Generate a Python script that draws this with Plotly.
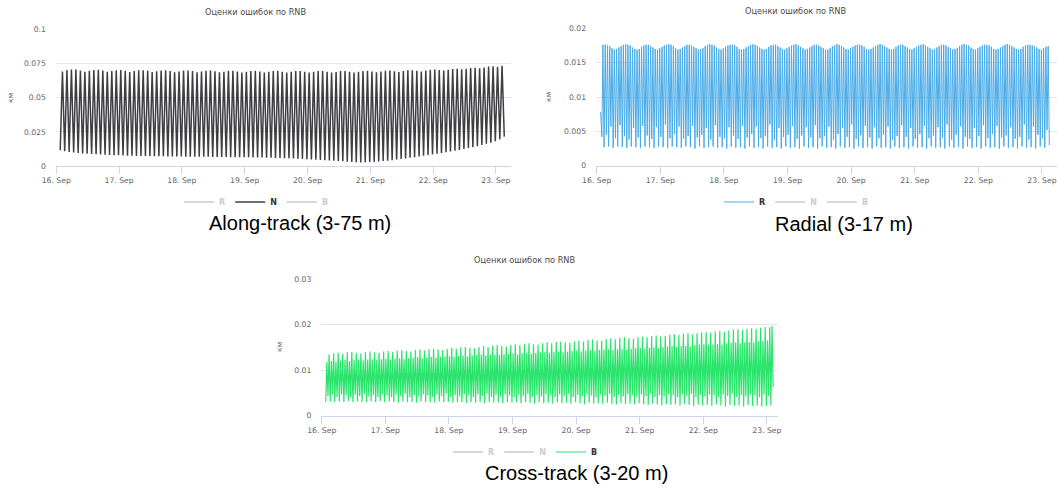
import numpy as np
import pandas as pd
import plotly.graph_objects as go

# ---------------- data (km) ----------------
SERIES_NAMES = ["R", "N", "B"]
CHART_TITLE = "Оценки ошибок по RNB"
Y_TITLE = "км"
CAPTIONS = ["Along-track (3-75 m)", "Radial (3-17 m)", "Cross-track (3-20 m)"]

FIRST_DAY = "2022-09-16 00:00"
DATA_START = "2022-09-16 01:30"

# Along-track (N): successive maxima and minima of each orbit
ALONG_PEAKS = [
    0.0692, 0.0702, 0.0706, 0.0705, 0.0698, 0.0690, 0.0697, 0.0703, 0.0704, 0.0698, 0.0689, 0.0695, 0.0701, 0.0702,
    0.0697, 0.0688, 0.0694, 0.0700, 0.0701, 0.0696, 0.0687, 0.0693, 0.0699, 0.0700, 0.0695, 0.0686, 0.0692, 0.0698,
    0.0699, 0.0694, 0.0686, 0.0691, 0.0697, 0.0698, 0.0693, 0.0685, 0.0690, 0.0696, 0.0697, 0.0692, 0.0684, 0.0690,
    0.0695, 0.0696, 0.0691, 0.0684, 0.0689, 0.0695, 0.0696, 0.0690, 0.0683, 0.0689, 0.0694, 0.0695, 0.0690, 0.0683,
    0.0689, 0.0694, 0.0695, 0.0690, 0.0683, 0.0688, 0.0694, 0.0695, 0.0690, 0.0684, 0.0689, 0.0695, 0.0696, 0.0691,
    0.0685, 0.0691, 0.0697, 0.0698, 0.0693, 0.0688, 0.0694, 0.0700, 0.0701, 0.0697, 0.0692, 0.0698, 0.0704, 0.0705,
    0.0702, 0.0698, 0.0704, 0.0709, 0.0711, 0.0707, 0.0712, 0.0717, 0.0719, 0.0715, 0.0721, 0.0727, 0.0729, 0.0726, 0.0734,
]
ALONG_TROUGHS = [
    0.0115, 0.0108, 0.0102, 0.0098, 0.0095, 0.0092, 0.0090, 0.0088, 0.0086, 0.0084, 0.0082, 0.0081, 0.0079, 0.0078,
    0.0077, 0.0076, 0.0075, 0.0074, 0.0074, 0.0073, 0.0072, 0.0072, 0.0071, 0.0071, 0.0070, 0.0070, 0.0069, 0.0069,
    0.0068, 0.0068, 0.0068, 0.0067, 0.0067, 0.0067, 0.0066, 0.0066, 0.0066, 0.0066, 0.0065, 0.0065, 0.0065, 0.0064,
    0.0064, 0.0063, 0.0063, 0.0062, 0.0061, 0.0060, 0.0059, 0.0058, 0.0057, 0.0056, 0.0055, 0.0053, 0.0052, 0.0050,
    0.0048, 0.0046, 0.0044, 0.0042, 0.0040, 0.0038, 0.0036, 0.0034, 0.0032, 0.0030, 0.0028, 0.0026, 0.0027, 0.0029,
    0.0031, 0.0033, 0.0036, 0.0039, 0.0043, 0.0047, 0.0051, 0.0055, 0.0060, 0.0065, 0.0070, 0.0075, 0.0080, 0.0085,
    0.0090, 0.0095, 0.0100, 0.0106, 0.0112, 0.0118, 0.0124, 0.0131, 0.0138, 0.0145, 0.0153, 0.0162, 0.0171, 0.0181,
    0.0195, 0.0215,
]

# Radial (R): first value, then alternating minima / maxima (two per orbit)
RADIAL_FIRST = 0.0078
RADIAL_PEAKS = [
    0.0176, 0.0176, 0.0175, 0.0174, 0.0171, 0.0169, 0.0170, 0.0172, 0.0174,
    0.0176, 0.0177, 0.0176, 0.0175, 0.0172, 0.0170, 0.0169, 0.0170, 0.0173, 0.0175,
    0.0176, 0.0176, 0.0174, 0.0172, 0.0170, 0.0169, 0.0171, 0.0173, 0.0175,
    0.0176, 0.0177, 0.0176, 0.0174, 0.0171, 0.0169, 0.0170, 0.0172, 0.0174,
    0.0176, 0.0176, 0.0175, 0.0173, 0.0171, 0.0169, 0.0170, 0.0171, 0.0174, 0.0176,
    0.0177, 0.0176, 0.0175, 0.0172, 0.0170, 0.0169, 0.0171, 0.0173, 0.0175,
    0.0176, 0.0176, 0.0175, 0.0173, 0.0170, 0.0169, 0.0170, 0.0172, 0.0174,
    0.0176, 0.0177, 0.0176, 0.0174, 0.0172, 0.0170, 0.0169, 0.0170, 0.0173, 0.0175,
    0.0176, 0.0176, 0.0174, 0.0172, 0.0170, 0.0169, 0.0171, 0.0173, 0.0175,
    0.0176, 0.0177, 0.0175, 0.0173, 0.0171, 0.0169, 0.0170, 0.0172, 0.0174,
    0.0176, 0.0176, 0.0175, 0.0173, 0.0171, 0.0169, 0.0169, 0.0171, 0.0174, 0.0175,
    0.0177, 0.0176, 0.0174, 0.0172, 0.0170, 0.0169, 0.0171, 0.0173, 0.0175,
    0.0176, 0.0176, 0.0175, 0.0173, 0.0170, 0.0169, 0.0170, 0.0172, 0.0174,
    0.0176, 0.0177, 0.0176, 0.0174, 0.0172, 0.0170, 0.0169, 0.0170, 0.0173, 0.0175,
    0.0176, 0.0176, 0.0174, 0.0172, 0.0170, 0.0169, 0.0171, 0.0173, 0.0175,
    0.0176, 0.0177, 0.0175, 0.0173, 0.0171, 0.0169, 0.0170, 0.0172, 0.0174,
    0.0176, 0.0176, 0.0175, 0.0173, 0.0171, 0.0169, 0.0170, 0.0171, 0.0174, 0.0176,
    0.0177, 0.0176, 0.0175, 0.0172, 0.0170, 0.0169, 0.0171, 0.0173, 0.0175,
    0.0176, 0.0176, 0.0175, 0.0173, 0.0170, 0.0169, 0.0170, 0.0172, 0.0174,
    0.0176, 0.0177, 0.0176, 0.0174, 0.0172, 0.0170, 0.0169, 0.0170, 0.0173, 0.0175,
    0.0176, 0.0176, 0.0175, 0.0174, 0.0172, 0.0170, 0.0169, 0.0171, 0.0173, 0.0174,
]
RADIAL_TROUGHS = [
    0.0042, 0.0027, 0.0045, 0.0028, 0.0057, 0.0026, 0.0040, 0.0028, 0.0059, 0.0027, 0.0043, 0.0026, 0.0038, 0.0028,
    0.0055, 0.0027, 0.0041, 0.0026, 0.0058, 0.0028, 0.0044, 0.0027, 0.0039, 0.0026, 0.0056, 0.0028, 0.0042, 0.0027,
    0.0060, 0.0026, 0.0040, 0.0028, 0.0046, 0.0027, 0.0057, 0.0026, 0.0039, 0.0028, 0.0043, 0.0027, 0.0058, 0.0025,
    0.0041, 0.0028, 0.0045, 0.0026, 0.0055, 0.0027, 0.0038, 0.0028, 0.0059, 0.0026, 0.0042, 0.0027, 0.0040, 0.0025,
    0.0056, 0.0028, 0.0044, 0.0026, 0.0039, 0.0027, 0.0058, 0.0025, 0.0041, 0.0028, 0.0046, 0.0026, 0.0057, 0.0027,
    0.0040, 0.0025, 0.0043, 0.0028, 0.0060, 0.0026, 0.0038, 0.0027, 0.0055, 0.0025, 0.0042, 0.0028, 0.0045, 0.0026,
    0.0058, 0.0027, 0.0039, 0.0025, 0.0044, 0.0028, 0.0056, 0.0026, 0.0041, 0.0027, 0.0059, 0.0025, 0.0040, 0.0028,
    0.0043, 0.0026, 0.0057, 0.0027, 0.0038, 0.0025, 0.0046, 0.0028, 0.0055, 0.0026, 0.0042, 0.0027, 0.0060, 0.0025,
    0.0039, 0.0028, 0.0044, 0.0026, 0.0058, 0.0027, 0.0041, 0.0025, 0.0056, 0.0028, 0.0040, 0.0026, 0.0045, 0.0027,
    0.0057, 0.0025, 0.0038, 0.0028, 0.0043, 0.0026, 0.0059, 0.0027, 0.0042, 0.0025, 0.0055, 0.0028, 0.0039, 0.0026,
    0.0046, 0.0027, 0.0058, 0.0025, 0.0040, 0.0028, 0.0044, 0.0026, 0.0056, 0.0027, 0.0041, 0.0025, 0.0060, 0.0028,
    0.0038, 0.0026, 0.0045, 0.0027, 0.0057, 0.0025, 0.0042, 0.0028, 0.0039, 0.0026, 0.0055, 0.0027, 0.0043, 0.0025,
    0.0059, 0.0028, 0.0040, 0.0026, 0.0046, 0.0027, 0.0058, 0.0025, 0.0041, 0.0028, 0.0044, 0.0026, 0.0056, 0.0027,
    0.0039, 0.0025, 0.0042, 0.0028, 0.0060, 0.0026, 0.0038, 0.0027, 0.0057, 0.0025, 0.0045, 0.0028, 0.0040, 0.0026,
    0.0052, 0.0030,
]

# Cross-track (B): alternating minima / maxima (two per orbit)
CROSS_PEAKS = [
    0.0118, 0.0134, 0.0120, 0.0137, 0.0119, 0.0138, 0.0121, 0.0136, 0.0122, 0.0139, 0.0120, 0.0140, 0.0122, 0.0138,
    0.0123, 0.0137, 0.0121, 0.0140, 0.0123, 0.0141, 0.0124, 0.0139, 0.0122, 0.0138, 0.0124, 0.0141, 0.0125, 0.0142,
    0.0123, 0.0140, 0.0125, 0.0143, 0.0126, 0.0144, 0.0124, 0.0142, 0.0126, 0.0141, 0.0127, 0.0144, 0.0128, 0.0145,
    0.0126, 0.0143, 0.0128, 0.0146, 0.0129, 0.0147, 0.0127, 0.0145, 0.0129, 0.0144, 0.0130, 0.0147, 0.0131, 0.0149,
    0.0129, 0.0147, 0.0131, 0.0150, 0.0132, 0.0151, 0.0130, 0.0149, 0.0132, 0.0148, 0.0133, 0.0151, 0.0134, 0.0153,
    0.0132, 0.0151, 0.0134, 0.0154, 0.0135, 0.0155, 0.0133, 0.0153, 0.0135, 0.0152, 0.0136, 0.0155, 0.0137, 0.0157,
    0.0135, 0.0155, 0.0137, 0.0158, 0.0138, 0.0159, 0.0136, 0.0157, 0.0138, 0.0156, 0.0139, 0.0159, 0.0140, 0.0161,
    0.0138, 0.0159, 0.0140, 0.0162, 0.0141, 0.0163, 0.0139, 0.0161, 0.0141, 0.0160, 0.0142, 0.0163, 0.0143, 0.0165,
    0.0141, 0.0163, 0.0143, 0.0166, 0.0144, 0.0167, 0.0142, 0.0165, 0.0144, 0.0164, 0.0145, 0.0168, 0.0146, 0.0170,
    0.0144, 0.0168, 0.0146, 0.0171, 0.0147, 0.0172, 0.0145, 0.0170, 0.0147, 0.0169, 0.0148, 0.0172, 0.0149, 0.0174,
    0.0147, 0.0172, 0.0149, 0.0175, 0.0150, 0.0176, 0.0148, 0.0174, 0.0151, 0.0175, 0.0152, 0.0178, 0.0153, 0.0179,
    0.0151, 0.0177, 0.0153, 0.0180, 0.0154, 0.0181, 0.0152, 0.0179, 0.0155, 0.0181, 0.0156, 0.0183, 0.0157, 0.0184,
    0.0155, 0.0182, 0.0157, 0.0185, 0.0158, 0.0186, 0.0156, 0.0184, 0.0159, 0.0187, 0.0160, 0.0189, 0.0161, 0.0190,
    0.0159, 0.0188, 0.0161, 0.0191, 0.0162, 0.0192, 0.0160, 0.0190, 0.0163, 0.0193, 0.0164, 0.0195, 0.0165, 0.0194,
    0.0197,
]
CROSS_TROUGHS = [
    0.0030, 0.0043, 0.0031, 0.0046, 0.0029, 0.0041, 0.0031, 0.0047, 0.0030, 0.0044, 0.0032, 0.0040, 0.0029, 0.0046,
    0.0031, 0.0043, 0.0030, 0.0048, 0.0029, 0.0042, 0.0031, 0.0045, 0.0030, 0.0041, 0.0032, 0.0047, 0.0029, 0.0044,
    0.0031, 0.0040, 0.0030, 0.0046, 0.0028, 0.0043, 0.0031, 0.0048, 0.0029, 0.0041, 0.0030, 0.0045, 0.0028, 0.0042,
    0.0031, 0.0047, 0.0029, 0.0044, 0.0030, 0.0040, 0.0028, 0.0046, 0.0031, 0.0043, 0.0029, 0.0048, 0.0030, 0.0041,
    0.0028, 0.0045, 0.0030, 0.0042, 0.0029, 0.0047, 0.0027, 0.0044, 0.0030, 0.0040, 0.0028, 0.0046, 0.0029, 0.0043,
    0.0027, 0.0048, 0.0030, 0.0041, 0.0028, 0.0045, 0.0029, 0.0042, 0.0027, 0.0047, 0.0030, 0.0044, 0.0028, 0.0040,
    0.0029, 0.0046, 0.0027, 0.0043, 0.0030, 0.0048, 0.0028, 0.0041, 0.0026, 0.0045, 0.0029, 0.0042, 0.0027, 0.0047,
    0.0028, 0.0044, 0.0026, 0.0040, 0.0029, 0.0046, 0.0027, 0.0043, 0.0028, 0.0048, 0.0026, 0.0041, 0.0029, 0.0045,
    0.0027, 0.0042, 0.0025, 0.0047, 0.0028, 0.0044, 0.0026, 0.0040, 0.0027, 0.0046, 0.0025, 0.0043, 0.0028, 0.0048,
    0.0026, 0.0041, 0.0024, 0.0045, 0.0027, 0.0042, 0.0025, 0.0047, 0.0026, 0.0044, 0.0024, 0.0040, 0.0027, 0.0046,
    0.0025, 0.0043, 0.0023, 0.0048, 0.0026, 0.0041, 0.0024, 0.0045, 0.0022, 0.0042, 0.0025, 0.0047, 0.0023, 0.0044,
    0.0024, 0.0040, 0.0022, 0.0046, 0.0025, 0.0043, 0.0023, 0.0048, 0.0021, 0.0041, 0.0024, 0.0045, 0.0022, 0.0042,
    0.0023, 0.0047, 0.0021, 0.0044, 0.0024, 0.0040, 0.0022, 0.0046, 0.0020, 0.0043, 0.0023, 0.0048, 0.0021, 0.0041,
    0.0022, 0.0045, 0.0020, 0.0042, 0.0023, 0.0047, 0.0021, 0.0044, 0.0022, 0.0040, 0.0020, 0.0046, 0.0021, 0.0043,
    0.0022, 0.0062,
]

Y_TICKS = [
    [0, 0.025, 0.05, 0.075, 0.1],
    [0, 0.005, 0.01, 0.015, 0.02],
    [0, 0.01, 0.02, 0.03],
]

# ---------------- styling / layout helpers ----------------
W, H = 1057, 489
FONT = "DejaVu Sans"
COL_R, COL_N, COL_B = "#4aabe8", "#3e3e43", "#2ae46b"
HIDDEN = "#9a9a9a"


def zigzag(troughs, peaks, first=None):
    y = [] if first is None else [first]
    for i, p in enumerate(peaks):
        if i < len(troughs):
            y.append(troughs[i])
        y.append(p)
    if len(troughs) > len(peaks):
        y.append(troughs[len(peaks)])
    return y


def sample_times(n, per_day):
    t0 = pd.Timestamp(DATA_START)
    return t0 + pd.to_timedelta(np.arange(n) / per_day, unit="D")


def day_offset(d):
    return (pd.Timestamp(FIRST_DAY) + pd.Timedelta(days=d)).strftime("%Y-%m-%d %H:%M:%S")


along_y = zigzag(ALONG_TROUGHS, ALONG_PEAKS)
radial_y = zigzag(RADIAL_TROUGHS, RADIAL_PEAKS, RADIAL_FIRST)
cross_y = zigzag(CROSS_TROUGHS, CROSS_PEAKS)

along_x = sample_times(len(along_y), 28)
radial_x = sample_times(len(radial_y), 56)
cross_x = sample_times(len(cross_y), 56)

# series in R, N, B order
SERIES = [
    dict(x=radial_x, y=radial_y, color=COL_R, width=1.0),
    dict(x=along_x, y=along_y, color=COL_N, width=1.5),
    dict(x=cross_x, y=cross_y, color=COL_B, width=1.2),
]

# panel geometry in pixels: (left, right, top, bottom), x range in days
PANELS = [
    dict(px=(55.9, 510.7, 29.3, 166.0), xr=(-0.006, 7.236), yr=(0, 0.1),
         legend_c=(256, 202), title_c=(255, 12), ytitle=(10, 98), caption=(300, 223), active=1),
    dict(px=(596.06, 1057.0, 28.3, 165.7), xr=(-0.01, 7.237), yr=(0, 0.02),
         legend_c=(796, 202), title_c=(795, 11), ytitle=(548, 97), caption=(844, 224), active=0),
    dict(px=(321.4, 777.7, 279.2, 415.5), xr=(-0.005, 7.17), yr=(0, 0.03),
         legend_c=(525, 452), title_c=(524, 260), ytitle=(279, 347), caption=(576, 473), active=2),
]

fig = go.Figure()
layout = dict(
    width=W, height=H, margin=dict(l=0, r=0, t=0, b=0, pad=0),
    paper_bgcolor="white", plot_bgcolor="white", showlegend=True,
    font=dict(family=FONT, size=8, color="#666666"),
)
annotations = []

for k, p in enumerate(PANELS):
    sfx = "" if k == 0 else str(k + 1)
    xa, ya = "x" + sfx, "y" + sfx
    leg = "legend" + sfx
    l, r, t, b = p["px"]
    layout["xaxis" + sfx] = dict(
        domain=[l / W, r / W], anchor=ya, type="date", automargin=False,
        range=[day_offset(p["xr"][0]), day_offset(p["xr"][1])],
        tick0=FIRST_DAY, dtick=86400000, tickformat="%d. %b",
        ticks="outside", ticklen=7, tickwidth=1, tickcolor="#ccd6eb",
        showline=True, linecolor="#ccd6eb", linewidth=1, showgrid=False, zeroline=False,
        tickfont=dict(family=FONT, size=7.7, color="#666666"),
    )
    layout["yaxis" + sfx] = dict(
        domain=[1 - b / H, 1 - t / H], anchor=xa, range=list(p["yr"]), automargin=False,
        tickmode="array", tickvals=Y_TICKS[k], ticktext=[f"{v:g}" for v in Y_TICKS[k]],
        showgrid=True, gridcolor="#e6e6e6", gridwidth=1, zeroline=False, showline=False,
        ticks="", ticklabelstandoff=9,
        tickfont=dict(family=FONT, size=7.7, color="#666666"),
    )
    layout[leg] = dict(
        orientation="h", x=p["legend_c"][0] / W, y=1 - p["legend_c"][1] / H,
        xanchor="center", yanchor="middle", bgcolor="rgba(0,0,0,0)",
        font=dict(family=FONT, size=8, color="#333333"), itemclick=False, itemdoubleclick=False,
    )
    for s, name in enumerate(SERIES_NAMES):
        sd = SERIES[s]
        if s == p["active"]:
            fig.add_trace(go.Scatter(
                x=sd["x"], y=sd["y"], mode="lines", name=f"<b>{name}</b>",
                line=dict(color=sd["color"], width=sd["width"]),
                xaxis=xa, yaxis=ya, legend=leg, hoverinfo="skip",
            ))
        else:
            fig.add_trace(go.Scatter(
                x=sd["x"], y=sd["y"], mode="lines", visible="legendonly",
                name=f"<span style='color:{HIDDEN}'><b>{name}</b></span>",
                line=dict(color=HIDDEN, width=1.5),
                xaxis=xa, yaxis=ya, legend=leg, hoverinfo="skip",
            ))
    annotations.append(dict(
        text=CHART_TITLE, x=p["title_c"][0] / W, y=1 - p["title_c"][1] / H,
        xref="paper", yref="paper", xanchor="center", yanchor="middle", showarrow=False,
        font=dict(family=FONT, size=8.2, color="#4a4a4a"),
    ))
    annotations.append(dict(
        text=Y_TITLE, x=p["ytitle"][0] / W, y=1 - p["ytitle"][1] / H,
        xref="paper", yref="paper", xanchor="center", yanchor="middle", showarrow=False,
        textangle=-90, font=dict(family=FONT, size=7.5, color="#666666"),
    ))
    annotations.append(dict(
        text=CAPTIONS[k], x=p["caption"][0] / W, y=1 - p["caption"][1] / H,
        xref="paper", yref="paper", xanchor="center", yanchor="middle", showarrow=False,
        font=dict(family="Liberation Sans", size=20, color="#000000"),
    ))

layout["annotations"] = annotations
fig.update_layout(**layout)
fig.write_html("out.html")
